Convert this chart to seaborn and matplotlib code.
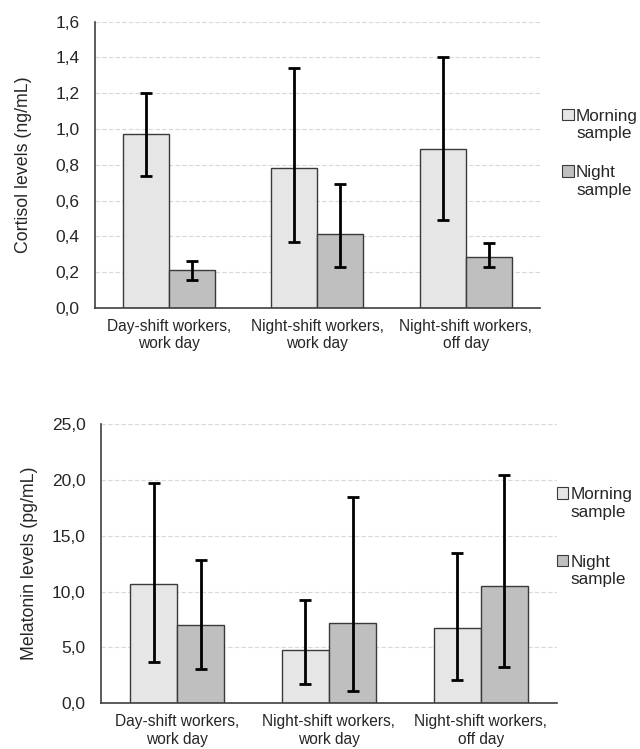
import pandas as pd
import seaborn as sns
import matplotlib.pyplot as plt
from matplotlib.patches import Patch, Rectangle
from matplotlib.legend_handler import HandlerPatch

groups = ['Day-shift workers,\nwork day', 'Night-shift workers,\nwork day', 'Night-shift workers,\noff day']
samples = ['Morning\nsample', 'Night\nsample']

# cortisol (ng/mL)
cort_morning = [0.97, 0.78, 0.89]
cort_morning_lo = [0.74, 0.37, 0.49]
cort_morning_hi = [1.20, 1.34, 1.40]
cort_night = [0.21, 0.415, 0.285]
cort_night_lo = [0.155, 0.23, 0.23]
cort_night_hi = [0.26, 0.69, 0.36]

# melatonin (pg/mL)
mel_morning = [10.7, 4.75, 6.7]
mel_morning_lo = [3.7, 1.75, 2.1]
mel_morning_hi = [19.7, 9.2, 13.5]
mel_night = [7.0, 7.15, 10.5]
mel_night_lo = [3.05, 1.1, 3.2]
mel_night_hi = [12.8, 18.5, 20.5]

colors = ['#e6e6e6', '#bfbfbf']
edge = '#3a3a3a'


def top_box(legend, orig_handle, xdescent, ydescent, width, height, fontsize):
    # put the little square next to the first line of the two-line label
    return Rectangle((-xdescent, -ydescent + 0.62 * fontsize), width, height)


def draw_panel(ax, morning, night, lows, highs, ylim, yticks, ylabel,
               labelpad, legend_x, legend_y, spacing):
    df = pd.DataFrame({
        'group': groups * 2,
        'sample': [samples[0]] * 3 + [samples[1]] * 3,
        'value': morning + night,
    })
    sns.barplot(data=df, x='group', y='value', hue='sample', palette=colors,
                order=groups, hue_order=samples, errorbar=None, width=0.62,
                edgecolor=edge, linewidth=1.0, ax=ax, legend=False, zorder=2)

    # asymmetric error bars drawn at the bar centres
    for cont, vals, lo, hi in zip(ax.containers, [morning, night], lows, highs):
        xs = [b.get_x() + b.get_width() / 2 for b in cont]
        yerr = [[v - l for v, l in zip(vals, lo)], [h - v for v, h in zip(vals, hi)]]
        ax.errorbar(xs, vals, yerr=yerr, fmt='none', ecolor='black',
                    elinewidth=2, capsize=4, capthick=2, zorder=3)

    ax.set_xlim(-0.5, 2.5)
    ax.set_ylim(*ylim)
    ax.set_yticks(yticks)
    ax.set_yticklabels([f'{t:.1f}'.replace('.', ',') for t in yticks], fontsize=12.5)
    ax.tick_params(axis='x', labelsize=11.2, length=0, pad=8)
    ax.tick_params(axis='y', length=0, pad=11)
    ax.set_xlabel('')
    ax.set_ylabel(ylabel, fontsize=12.8, labelpad=labelpad)
    ax.grid(axis='y', color='#d8d8d8', linestyle=(0, (4, 2)), linewidth=0.8, zorder=0)
    ax.set_axisbelow(True)
    sns.despine(ax=ax)
    for s in ['left', 'bottom']:
        ax.spines[s].set_color('#404040')
        ax.spines[s].set_linewidth(1.2)

    handles = [Patch(facecolor=c, edgecolor=edge, linewidth=0.8) for c in colors]
    ax.legend(handles, samples, loc='center left', bbox_to_anchor=(legend_x, legend_y),
              frameon=False, fontsize=12.3, handlelength=0.65, handleheight=0.65,
              handletextpad=0.15, labelspacing=spacing, borderaxespad=0, borderpad=0,
              handler_map={Patch: HandlerPatch(patch_func=top_box)})


sns.set_style('white')
plt.rcParams['font.family'] = ['Liberation Sans', 'DejaVu Sans']

fig = plt.figure(figsize=(6.4, 7.49), dpi=100)
ax1 = fig.add_axes([0.148, 0.589, 0.696, 0.382])
ax2 = fig.add_axes([0.158, 0.0614, 0.712, 0.372])

draw_panel(ax1, cort_morning, cort_night,
           [cort_morning_lo, cort_night_lo], [cort_morning_hi, cort_night_hi],
           (0, 1.6), [0, 0.2, 0.4, 0.6, 0.8, 1.0, 1.2, 1.4, 1.6],
           'Cortisol levels (ng/mL)', 17, 1.05, 0.54, 1.4)
draw_panel(ax2, mel_morning, mel_night,
           [mel_morning_lo, mel_night_lo], [mel_morning_hi, mel_night_hi],
           (0, 25), [0, 5, 10, 15, 20, 25],
           'Melatonin levels (pg/mL)', 10, 1.0, 0.595, 2.05)

fig.savefig('out.png', dpi=100)
